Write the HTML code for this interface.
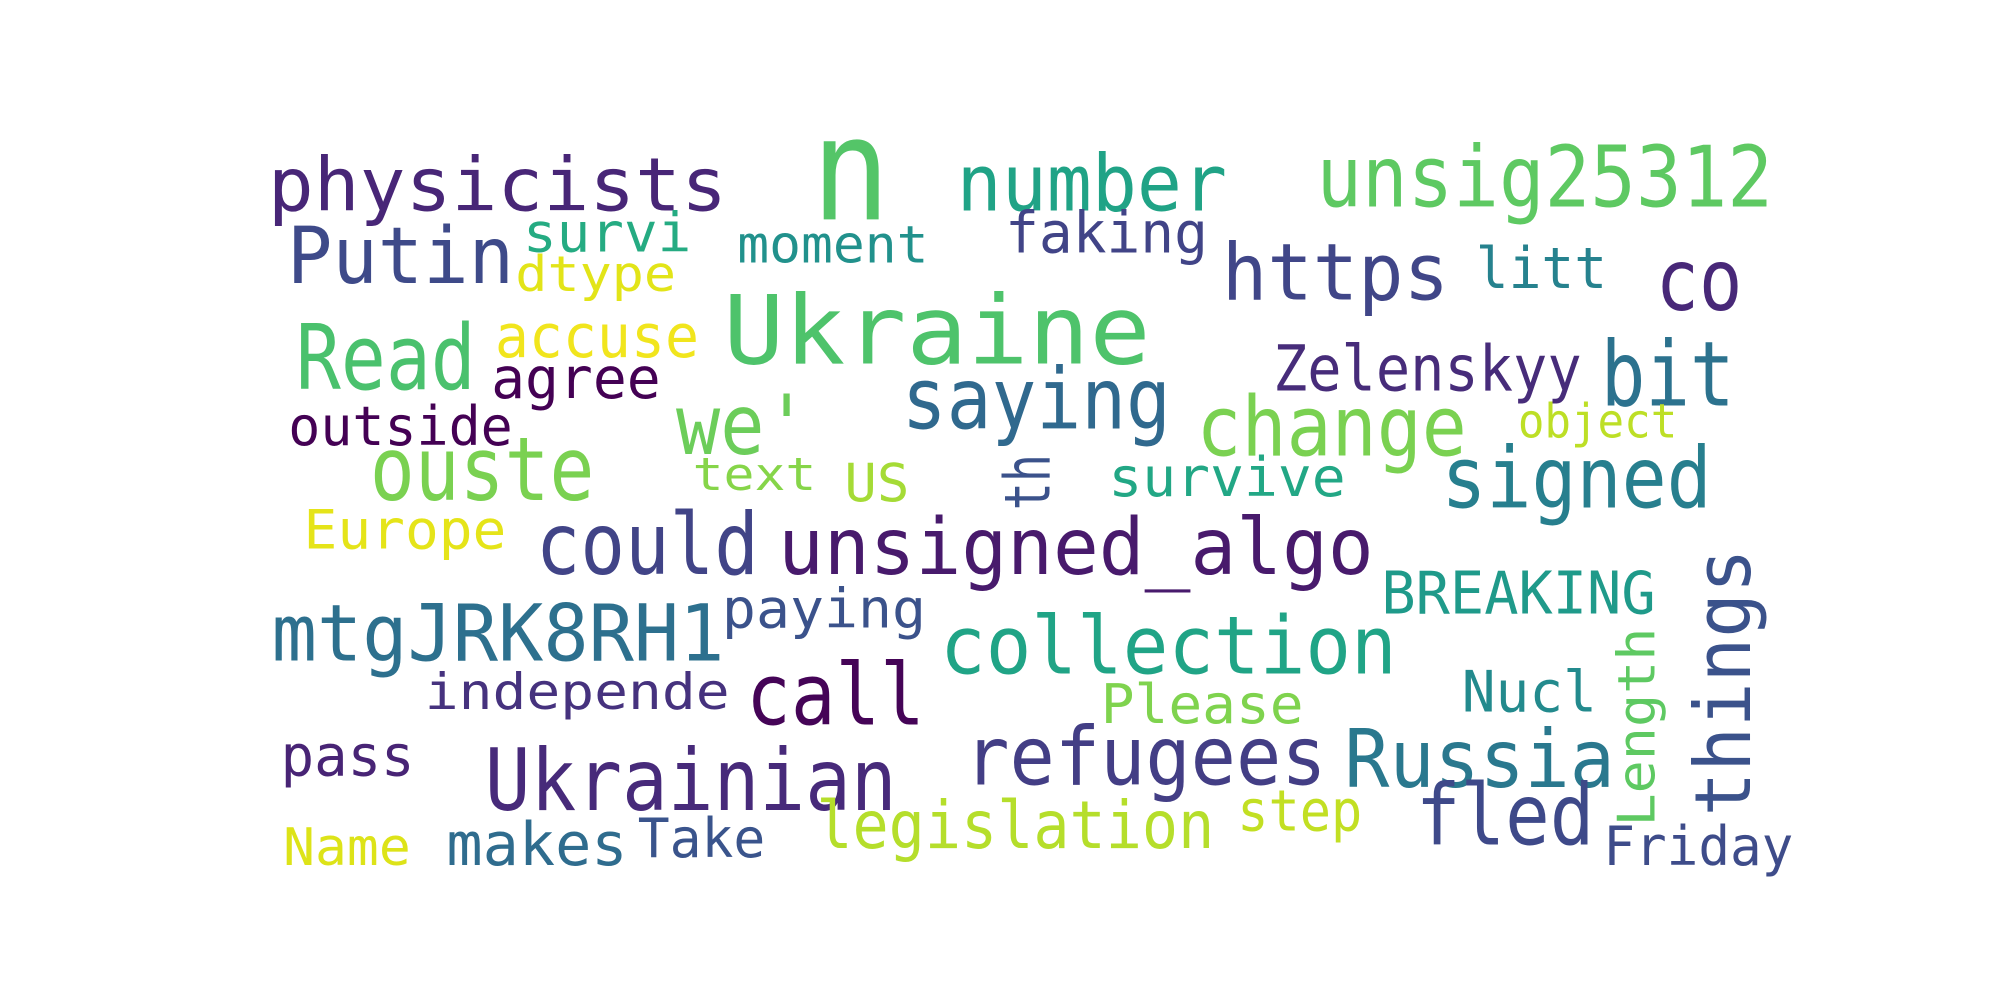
<!DOCTYPE html>
<html><head><meta charset="utf-8"><style>
html,body{margin:0;padding:0;background:#fff;width:2000px;height:1000px;overflow:hidden}
svg text{font-family:"DejaVu Sans Mono","Liberation Mono",monospace}
</style></head><body>
<svg id="cloud" width="2000" height="1000" viewBox="0 0 1568 784" xmlns="http://www.w3.org/2000/svg">
<rect width="1568" height="784" fill="#fff"/>
</svg>
<script>
const words = ["physicists","n","number","unsig25312","Putin","survi","dtype","moment","faking","https","litt","co","Ukraine","Read","accuse","agree","Zelenskyy","bit","we'","saying","change","object","outside","ouste","text","US","th","survive","signed","Europe","could","unsigned_algo","BREAKING","things","mtgJRK8RH1","paying","collection","Length","independe","call","Please","Nucl","pass","Ukrainian","refugees","Russia","fled","step","legislation","Name","makes","Take","Friday"];
const sizes = [52,100,55,59,55,38,34,36,40,55,40,60,67,63,42,40,44,63,58,59,58,33,38,62,32,37,44,38,59,38,60,55,41,54,55,38,56,36,35,60,38,40,40,60,57,56,59,40,46,36,42,38,38];
const colors = ["#482677","#54c568","#20a386","#5ec962","#3e4a89","#25ab82","#e2e418","#21918c","#414487","#404688","#26828e","#482878","#4ec36b","#4ac16d","#f1e51d","#440154","#472c7a","#2c728e","#6ccd5a","#30698e","#7ad151","#bddf26","#440154","#7ad151","#86d549","#a5db36","#3b528b","#22a785","#277f8e","#e5e419","#414487","#481a6c","#1f9a8a","#3b528b","#2d708e","#3b528b","#20a486","#5ec962","#46327e","#450457","#7fd34e","#238a8d","#482475","#472a7a","#433e85","#2a788e","#3e4989","#c2df23","#b5de2b","#dde318","#2f6c8e","#3a548c","#3e4c8a"];
const xs = [210,636,750,1032,225,410,404,578,788,958,1157,1298,567,232,388,385,998,1255,530,707,938,1190,226,290,543,662,823,869,1130,238,420,610,1083,1372,213,566,737,1297,333,585,863,1146,220,380,756,1054,1110,970,640,222,350,500,1257];
const ys = [165,172,165,162,222,197,228,206,198,235,226,243,285,305,280,312,306,318,356,336,357,343,349,392,384,393,400,389,398,430,450,450,481,640,518,492,528,648,556,568,567,558,608,635,615,617,662,651,665,678,678,672,678];
const lens = [360,62,212,358,178,132,126,150,159,178,103,68,335,141,160,133,242,105,104,211,212,125,176,176,97,51,44,186,212,159,175,467,215,210,355,160,358,156,239,140,159,106,105,323,284,212,140,98,312,100,142,100,149];
const rotated = ["th","things","Length"];
const svg = document.getElementById('cloud');
const NS = "http://www.w3.org/2000/svg";
for (let i = 0; i < words.length; i++) {
  const t = document.createElementNS(NS, 'text');
  t.textContent = words[i];
  t.setAttribute('font-size', sizes[i] * 1.12);
  t.setAttribute('fill', colors[i]);
  t.setAttribute('textLength', lens[i]);
  t.setAttribute('lengthAdjust', 'spacingAndGlyphs');
  if (rotated.includes(words[i])) {
    t.setAttribute('transform', 'translate(' + xs[i] + ',' + ys[i] + ') rotate(-90)');
  } else {
    t.setAttribute('x', xs[i]);
    t.setAttribute('y', ys[i]);
  }
  
  
  svg.appendChild(t);
}
</script>
</body></html>
